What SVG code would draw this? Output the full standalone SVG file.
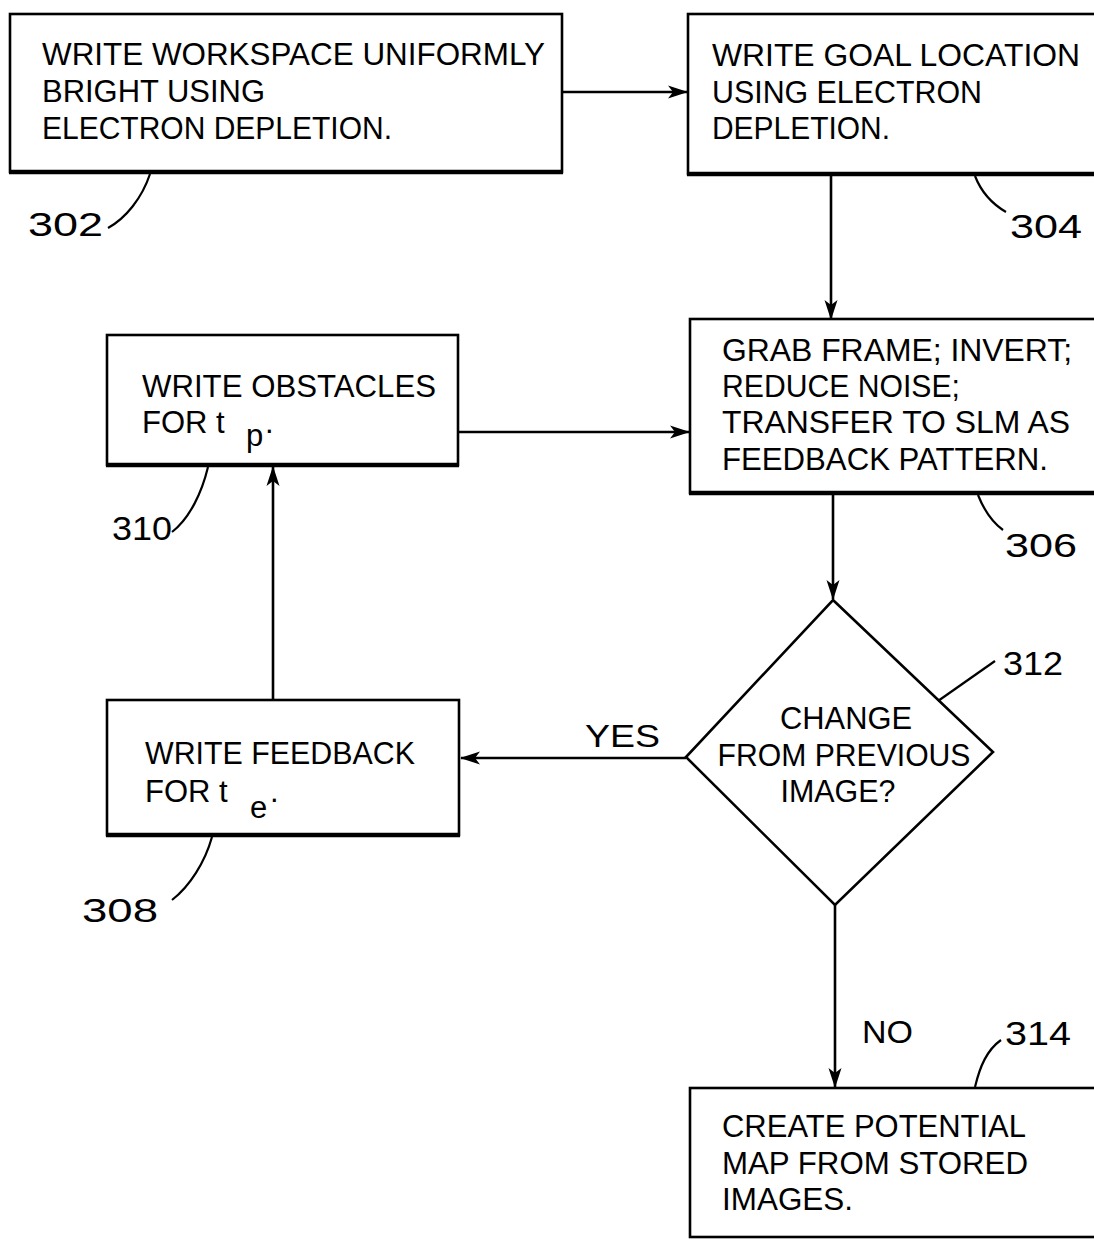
<svg xmlns="http://www.w3.org/2000/svg" width="1094" height="1240" viewBox="0 0 1094 1240">
<style>
.box{fill:#fff;stroke:#000;stroke-width:2.6}
.base{stroke:#000;stroke-width:4.5;fill:none}
.t{font-family:"Liberation Sans",Arial,sans-serif;font-size:31px;fill:#000}
.lbl{font-family:"Liberation Sans",Arial,sans-serif;font-size:34px;fill:#000}
.lead{fill:none;stroke:#000;stroke-width:2.2}
.conn{fill:none;stroke:#000;stroke-width:2.6}
</style>
<defs>
<marker id="arr" viewBox="0 0 20 14" refX="19" refY="7" markerWidth="20" markerHeight="14" markerUnits="userSpaceOnUse" orient="auto">
<path d="M0,0.5 L20,7 L0,13.5 L5,7 Z" fill="#000"/>
</marker>
</defs>
<rect width="1094" height="1240" fill="#fff"/>

<g id="connectors">
<path class="conn" d="M563,92 L687,92" marker-end="url(#arr)"/>
<path class="conn" d="M831,175 L831,319" marker-end="url(#arr)"/>
<path class="conn" d="M458,432 L689,432" marker-end="url(#arr)"/>
<path class="conn" d="M833,494 L833,599" marker-end="url(#arr)"/>
<path class="conn" d="M686,758 L461,758" marker-end="url(#arr)"/>
<path class="conn" d="M273,700 L273,467" marker-end="url(#arr)"/>
<path class="conn" d="M835,905 L835,1087" marker-end="url(#arr)"/>
<text class="t" x="585" y="747" textLength="75" lengthAdjust="spacingAndGlyphs">YES</text>
<text class="t" x="862" y="1043" textLength="51" lengthAdjust="spacingAndGlyphs">NO</text>
</g>

<g id="n302">
<rect class="box" x="10" y="14" width="552" height="158"/>
<line class="base" x1="9" y1="172" x2="563" y2="172"/>
<text class="t" x="42" y="65" textLength="503" lengthAdjust="spacingAndGlyphs">WRITE WORKSPACE UNIFORMLY</text>
<text class="t" x="42" y="102" textLength="223" lengthAdjust="spacingAndGlyphs">BRIGHT USING</text>
<text class="t" x="42" y="139" textLength="350" lengthAdjust="spacingAndGlyphs">ELECTRON DEPLETION.</text>
<path class="lead" d="M150,174 C142,198 126,218 108,228"/>
<text class="lbl" x="28" y="236" textLength="75" lengthAdjust="spacingAndGlyphs">302</text>
</g>

<g id="n304">
<rect class="box" x="688" y="14" width="420" height="160"/>
<line class="base" x1="687" y1="174" x2="1100" y2="174"/>
<text class="t" x="712" y="66" textLength="368" lengthAdjust="spacingAndGlyphs">WRITE GOAL LOCATION</text>
<text class="t" x="712" y="103" textLength="270" lengthAdjust="spacingAndGlyphs">USING ELECTRON</text>
<text class="t" x="712" y="139" textLength="178" lengthAdjust="spacingAndGlyphs">DEPLETION.</text>
<path class="lead" d="M975,176 C982,194 994,205 1006,212"/>
<text class="lbl" x="1010" y="238" textLength="72" lengthAdjust="spacingAndGlyphs">304</text>
</g>

<g id="n306">
<rect class="box" x="690" y="319" width="420" height="174"/>
<line class="base" x1="689" y1="493" x2="1100" y2="493"/>
<text class="t" x="722" y="361" textLength="350" lengthAdjust="spacingAndGlyphs">GRAB FRAME; INVERT;</text>
<text class="t" x="722" y="397" textLength="238" lengthAdjust="spacingAndGlyphs">REDUCE NOISE;</text>
<text class="t" x="722" y="433" textLength="348" lengthAdjust="spacingAndGlyphs">TRANSFER TO SLM AS</text>
<text class="t" x="722" y="470" textLength="326" lengthAdjust="spacingAndGlyphs">FEEDBACK PATTERN.</text>
<path class="lead" d="M978,495 C984,510 992,522 1003,530"/>
<text class="lbl" x="1005" y="557" textLength="72" lengthAdjust="spacingAndGlyphs">306</text>
</g>

<g id="n310">
<rect class="box" x="107" y="335" width="351" height="130"/>
<line class="base" x1="106" y1="465" x2="459" y2="465"/>
<text class="t" x="142" y="397" textLength="294" lengthAdjust="spacingAndGlyphs">WRITE OBSTACLES</text>
<text class="t" x="142" y="433">FOR t<tspan x="246" y="446">p</tspan><tspan x="265" y="433">.</tspan></text>
<path class="lead" d="M208,467 C202,492 190,518 172,532"/>
<text class="lbl" x="112" y="540" textLength="60" lengthAdjust="spacingAndGlyphs">310</text>
</g>

<g id="n308">
<rect class="box" x="107" y="700" width="352" height="135"/>
<line class="base" x1="106" y1="835" x2="460" y2="835"/>
<text class="t" x="145" y="764" textLength="270" lengthAdjust="spacingAndGlyphs">WRITE FEEDBACK</text>
<text class="t" x="145" y="802">FOR t<tspan x="250" y="818">e</tspan><tspan x="270" y="802">.</tspan></text>
<path class="lead" d="M212,837 C205,862 190,886 172,900"/>
<text class="lbl" x="82" y="922" textLength="76" lengthAdjust="spacingAndGlyphs">308</text>
</g>

<g id="n312">
<polygon class="box" points="833,600 993,752 835,905 686,757"/>
<text class="t" x="846" y="729" text-anchor="middle" textLength="132" lengthAdjust="spacingAndGlyphs">CHANGE</text>
<text class="t" x="844" y="766" text-anchor="middle" textLength="253" lengthAdjust="spacingAndGlyphs">FROM PREVIOUS</text>
<text class="t" x="838" y="802" text-anchor="middle" textLength="115" lengthAdjust="spacingAndGlyphs">IMAGE?</text>
<path class="lead" d="M938,701 L995,661"/>
<text class="lbl" x="1003" y="675" textLength="60" lengthAdjust="spacingAndGlyphs">312</text>
</g>

<g id="n314">
<rect class="box" x="690" y="1088" width="420" height="149"/>
<text class="t" x="722" y="1137" textLength="304" lengthAdjust="spacingAndGlyphs">CREATE POTENTIAL</text>
<text class="t" x="722" y="1174" textLength="306" lengthAdjust="spacingAndGlyphs">MAP FROM STORED</text>
<text class="t" x="722" y="1210" textLength="131" lengthAdjust="spacingAndGlyphs">IMAGES.</text>
<path class="lead" d="M975,1087 C980,1066 987,1050 1001,1040"/>
<text class="lbl" x="1005" y="1045" textLength="66" lengthAdjust="spacingAndGlyphs">314</text>
</g>
</svg>
